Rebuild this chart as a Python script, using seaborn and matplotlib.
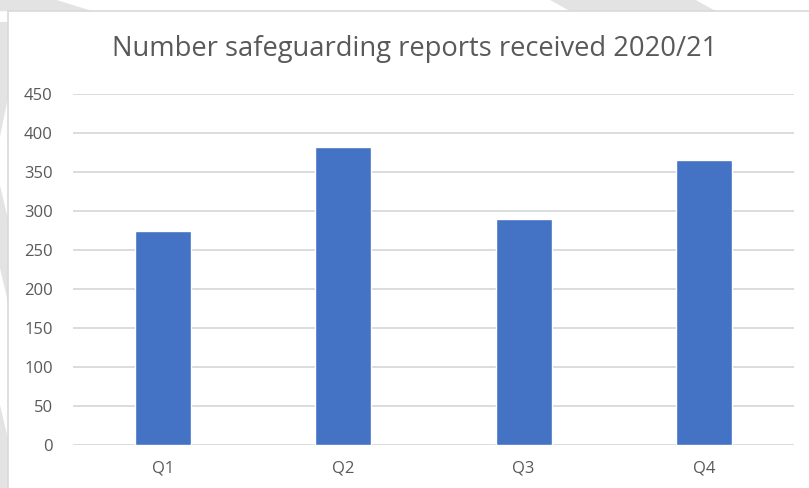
import matplotlib
matplotlib.use("Agg")
import matplotlib.pyplot as plt
import seaborn as sns
import pandas as pd
from matplotlib.patches import Polygon, Rectangle

# Data
quarters = ["Q1", "Q2", "Q3", "Q4"]
reports = [275, 382, 290, 365]
y_ticks = [0, 50, 100, 150, 200, 250, 300, 350, 400, 450]

BAR_COLOR = "#4472C4"
TEXT_COLOR = "#595959"
GRID_COLOR = "#D9D9D9"


def main():
    df = pd.DataFrame({"Quarter": quarters, "Reports": reports})

    sns.set_style("white")
    plt.rcParams["font.family"] = ["Open Sans", "DejaVu Sans"]

    fig = plt.figure(figsize=(8.09, 4.88), dpi=100)

    # faint diagonal stripes from the page behind the chart
    stripes = [
        [(0.0, 0.955), (0.010, 0.955), (0.010, 0.80), (0.0, 0.72)],
        [(0.0, 0.62), (0.010, 0.55), (0.010, 0.38), (0.0, 0.45)],
        [(0.0, 0.17), (0.010, 0.10), (0.010, 0.0), (0.0, 0.0)],
        [(0.0, 1.0), (0.07, 1.0), (0.115, 0.977), (0.0, 0.977)],
        [(0.68, 1.0), (0.86, 1.0), (0.885, 0.977), (0.705, 0.977)],
    ]
    for pts in stripes:
        fig.patches.append(Polygon(pts, closed=True, transform=fig.transFigure,
                                   facecolor="#E3E3E3", edgecolor="none", zorder=0))
    # chart border
    fig.patches.append(Rectangle((0.0105, -0.01), 1.0, 0.987, transform=fig.transFigure,
                                 facecolor="white", edgecolor="#D9D9D9", linewidth=1.2, zorder=1))

    ax = fig.add_axes([0.0902, 0.0871, 0.8913, 0.7203])
    ax.set_zorder(2)
    ax.patch.set_alpha(0)

    sns.barplot(data=df, x="Quarter", y="Reports", color=BAR_COLOR,
                saturation=1, width=0.31, ax=ax, zorder=3)

    ax.set_ylim(0, 450)
    ax.set_xlim(-0.5, 3.5)
    ax.set_yticks(y_ticks)
    ax.yaxis.grid(True, color=GRID_COLOR, linewidth=1.3)
    ax.set_axisbelow(True)
    for side in ["top", "right", "left", "bottom"]:
        ax.spines[side].set_visible(False)
    ax.tick_params(axis="both", length=0, labelsize=12, labelcolor=TEXT_COLOR)
    ax.tick_params(axis="y", pad=14.5)
    ax.tick_params(axis="x", pad=11)
    ax.set_xlabel("")
    ax.set_ylabel("")

    fig.text(0.513, 0.900, "Number safeguarding reports received 2020/21",
             ha="center", va="center", fontsize=19.7, color=TEXT_COLOR)

    fig.savefig("out.png", dpi=100)
    plt.close(fig)


if __name__ == "__main__":
    main()
